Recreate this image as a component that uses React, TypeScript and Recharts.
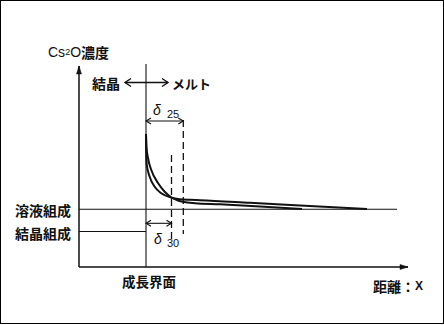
import React from 'react';
import { ComposedChart, Line, XAxis, YAxis, ReferenceLine, Customized } from 'recharts';

// Distance from the growth interface (x) and Cs2O concentration (y), arbitrary units
const curve25X = [0, 0.5, 2, 5.3, 12, 18.7, 25.5, 32, 38, 49, 74, 114, 156];
const curve25Y = [133, 120, 109, 97, 84, 75.3, 69.5, 66.5, 65, 63.8, 62.7, 60.5, 58];
const curve30X = [0, 0.2, 0.8, 3.7, 8.7, 15.3, 25.5, 34, 44, 54, 104, 154, 221];
const curve30Y = [133, 115, 102, 90.3, 80.3, 73.7, 69.3, 67.8, 67.2, 66.8, 64.2, 61.5, 58];

const solutionLevel = 57.7; // 溶液組成
const crystalLevel = 35.5; // 結晶組成
const delta25 = 37.3;
const delta30 = 25.5;
const xMin = -67;
const xMax = 262;
const yMax = 204;
const solutionLineEnd = 251;
const interfaceTop = 203;
const yAxisTop = 201;

const curve25 = curve25X.map((x, i) => ({ x, c: curve25Y[i] }));
const curve30 = curve30X.map((x, i) => ({ x, c: curve30Y[i] }));

const INK = '#111';

type ArrowOpts = { start?: boolean; end?: boolean; filled?: boolean; len?: number; half?: number; width?: number; dash?: string };

const arrowShape = (o: ArrowOpts) => (props: any) => {
  const { x1, y1, x2, y2 } = props;
  const len = o.len ?? 6;
  const half = o.half ?? 3;
  const dx = x2 - x1;
  const dy = y2 - y1;
  const L = Math.hypot(dx, dy) || 1;
  const ux = dx / L;
  const uy = dy / L;
  const px = -uy;
  const py = ux;
  const head = (tx: number, ty: number, dirx: number, diry: number, key: string) => {
    const bx = tx - dirx * len;
    const by = ty - diry * len;
    const a = `${bx + px * half},${by + py * half}`;
    const b = `${bx - px * half},${by - py * half}`;
    const t = `${tx},${ty}`;
    return o.filled ? (
      <polygon key={key} points={`${t} ${a} ${b}`} fill={INK} stroke={INK} strokeWidth={0.5} />
    ) : (
      <polyline key={key} points={`${a} ${t} ${b}`} fill="none" stroke={INK} strokeWidth={o.width ?? 1.2} />
    );
  };
  return (
    <g>
      <line x1={x1} y1={y1} x2={x2} y2={y2} stroke={INK} strokeWidth={o.width ?? 1.2} strokeDasharray={o.dash} />
      {o.start ? head(x1, y1, -ux, -uy, 's') : null}
      {o.end ? head(x2, y2, ux, uy, 'e') : null}
    </g>
  );
};

const cjk = '"Noto Sans CJK JP", "Noto Sans", sans-serif';
const latin = '"Liberation Sans", Arial, sans-serif';

const Labels = () => (
  <g>
    <text x={48} y={52} fill={INK} dominantBaseline="central" fontFamily={latin} fontSize={14}>
      Cs<tspan fill={INK} fontSize={9}>2</tspan>O
      <tspan fill={INK} fontFamily={cjk} fontWeight={700} fontSize={14}>濃度</tspan>
    </text>
    <text x={92} y={83} fill={INK} dominantBaseline="central" fontFamily={cjk} fontWeight={700} fontSize={14}>結晶</text>
    <text x={172} y={83} fill={INK} dominantBaseline="central" fontFamily={cjk} fontWeight={700} fontSize={13}>メルト</text>
    <text x={153} y={110} fill={INK} dominantBaseline="central" fontFamily={latin} fontStyle="italic" fontSize={14}>δ</text>
    <text x={167} y={114} fill={INK} dominantBaseline="central" fontFamily={latin} fontSize={11}>25</text>
    <text x={154} y={239} fill={INK} dominantBaseline="central" fontFamily={latin} fontStyle="italic" fontSize={14}>δ</text>
    <text x={167} y={243} fill={INK} dominantBaseline="central" fontFamily={latin} fontSize={11}>30</text>
    <text x={15} y={210} fill={INK} dominantBaseline="central" fontFamily={cjk} fontWeight={700} fontSize={14}>溶液組成</text>
    <text x={15} y={233} fill={INK} dominantBaseline="central" fontFamily={cjk} fontWeight={700} fontSize={14}>結晶組成</text>
    <text x={122} y={281} fill={INK} dominantBaseline="central" fontFamily={cjk} fontWeight={700} fontSize={13.5}>成長界面</text>
    <text x={373} y={286} fill={INK} dominantBaseline="central" fontFamily={cjk} fontWeight={700} fontSize={14}>
      距離：<tspan fill={INK} fontFamily={latin} fontSize={12}>X</tspan>
    </text>
  </g>
);

export default function App() {
  return (
    <div style={{ position: 'absolute', left: 0, top: 0, width: 444, height: 325, background: '#fff' }}>
      <ComposedChart width={444} height={325} margin={{ top: 63, right: 36, bottom: 58, left: 79 }}>
        <XAxis type="number" dataKey="x" domain={[xMin, xMax]} allowDataOverflow hide />
        <YAxis type="number" domain={[0, yMax]} allowDataOverflow hide />
        {/* axes */}
        <ReferenceLine segment={[{ x: xMin, y: 0 }, { x: xMin, y: yAxisTop }]} shape={arrowShape({ end: true, filled: true, len: 8, half: 2.5, width: 1.5 })} />
        <ReferenceLine segment={[{ x: xMin, y: 0 }, { x: xMax, y: 0 }]} shape={arrowShape({ end: true, filled: true, len: 8, half: 2.5, width: 1.5 })} />
        {/* growth interface */}
        <ReferenceLine segment={[{ x: 0, y: 0 }, { x: 0, y: interfaceTop }]} shape={arrowShape({ width: 1.1 })} />
        {/* composition levels */}
        <ReferenceLine segment={[{ x: xMin, y: solutionLevel }, { x: solutionLineEnd, y: solutionLevel }]} shape={arrowShape({ width: 1.1 })} />
        <ReferenceLine segment={[{ x: xMin, y: crystalLevel }, { x: 0, y: crystalLevel }]} shape={arrowShape({ width: 1.1 })} />
        {/* crystal <-> melt arrow */}
        <ReferenceLine segment={[{ x: -21, y: 184.5 }, { x: 22, y: 184.5 }]} shape={arrowShape({ start: true, end: true, len: 6, half: 4, width: 1.4 })} />
        {/* boundary layer widths */}
        <ReferenceLine segment={[{ x: delta25, y: 147 }, { x: delta25, y: 33 }]} shape={arrowShape({ width: 1.3, dash: '7 4' })} />
        <ReferenceLine segment={[{ x: delta30, y: 112 }, { x: delta30, y: 24 }]} shape={arrowShape({ width: 1.3, dash: '7 4' })} />
        <ReferenceLine segment={[{ x: 0, y: 146 }, { x: delta25, y: 146 }]} shape={arrowShape({ start: true, end: true, len: 5, half: 3, width: 1.1 })} />
        <ReferenceLine segment={[{ x: 0, y: 43.7 }, { x: delta30, y: 43.7 }]} shape={arrowShape({ start: true, end: true, len: 5, half: 3, width: 1.1 })} />
        {/* concentration profiles */}
        <Line data={curve30} dataKey="c" type="monotone" stroke={INK} strokeWidth={2} dot={false} isAnimationActive={false} />
        <Line data={curve25} dataKey="c" type="monotone" stroke={INK} strokeWidth={2} dot={false} isAnimationActive={false} />
        <Customized component={<Labels />} />
      </ComposedChart>
      <div style={{ position: 'absolute', left: 0, top: 0, width: 444, height: 324, boxSizing: 'border-box', border: '1px solid #000', pointerEvents: 'none' }} />
    </div>
  );
}
